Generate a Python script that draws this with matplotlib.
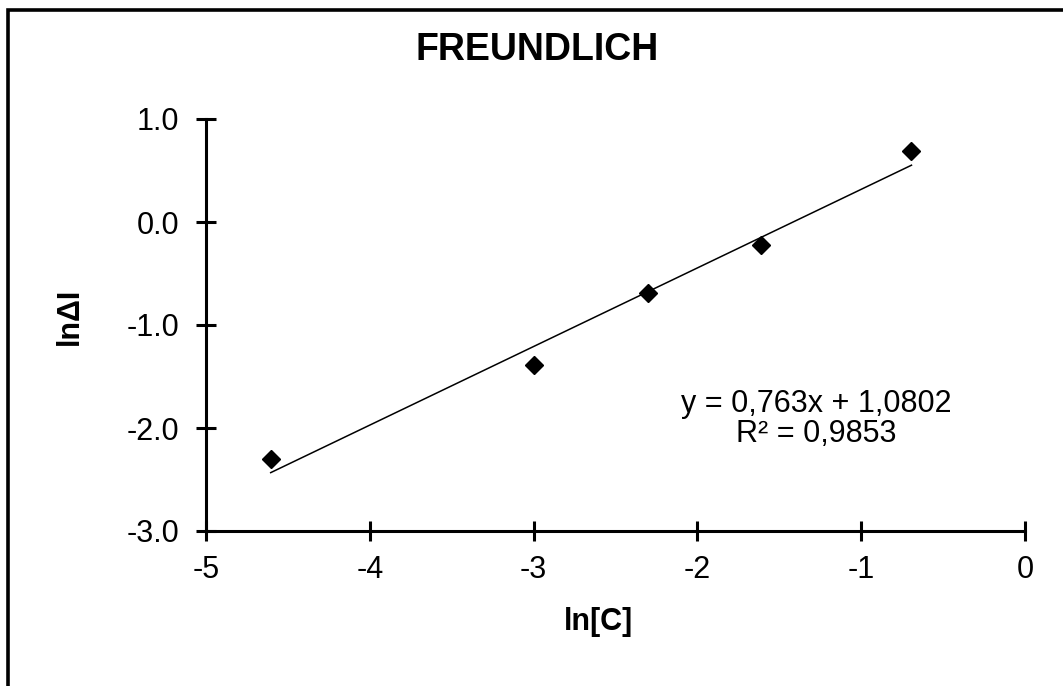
import numpy as np
import matplotlib
matplotlib.use("Agg")
import matplotlib.pyplot as plt
from matplotlib.ticker import FormatStrFormatter
from matplotlib.patches import Rectangle

plt.rcParams['font.family'] = ['Liberation Sans', 'DejaVu Sans']
plt.rcParams['axes.unicode_minus'] = False

# --- data (ln of concentration vs ln of delta I) ---
ln_c = [-4.605, -2.996, -2.303, -1.609, -0.693]
ln_di = [-2.303, -1.386, -0.693, -0.223, 0.693]

# linear trendline as reported on the chart
slope = 0.763
intercept = 1.0802
eq_text = "y = 0,763x + 1,0802\nR² = 0,9853"

W, H = 1063, 686
fig = plt.figure(figsize=(W / 100, H / 100), dpi=100)
ax = fig.add_axes([206 / W, 1 - 531 / H, (1025 - 206) / W, (531 - 119) / H])

# points
ax.plot(ln_c, ln_di, linestyle='none', marker='D', markersize=9.5,
        color='black', zorder=3)

# trendline over the data range
x_fit = np.array([min(ln_c), max(ln_c)])
ax.plot(x_fit, slope * x_fit + intercept, color='black', lw=1.1)

ax.set_xlim(-5, 0)
ax.set_ylim(-3, 1)
ax.set_xticks(range(-5, 1))
ax.set_yticks(np.arange(-3, 1.01, 1.0))
ax.yaxis.set_major_formatter(FormatStrFormatter('%.1f'))

for side in ['top', 'right']:
    ax.spines[side].set_visible(False)
for side in ['left', 'bottom']:
    ax.spines[side].set_linewidth(2.2)
ax.tick_params(direction='inout', length=14, width=2.2, labelsize=22)
ax.tick_params(axis='x', pad=10)
ax.tick_params(axis='y', pad=12)

ax.text(816 / W, 1 - 419 / H, eq_text, transform=fig.transFigure,
        ha='center', va='center', fontsize=22, linespacing=1.0)

# titles as figure text (centred like the original)
fig.text(537 / W, 1 - 50 / H, "FREUNDLICH", ha='center', va='center',
         fontsize=27, fontweight='bold')
fig.text(599 / W, 1 - 622 / H, "ln[C]", ha='center', va='center',
         fontsize=22, fontweight='bold')
fig.text(70 / W, 1 - 316 / H, "lnΔI", ha='center', va='center',
         fontsize=22, fontweight='bold', rotation=90)

# chart frame (clipped at bottom/right like the source)
fig.patches.append(Rectangle((8 / W, -0.1), 1.2, 1 - 9.5 / H + 0.1,
                             transform=fig.transFigure, fill=False,
                             edgecolor='black', lw=2.6))

fig.savefig("out.png", dpi=100)
